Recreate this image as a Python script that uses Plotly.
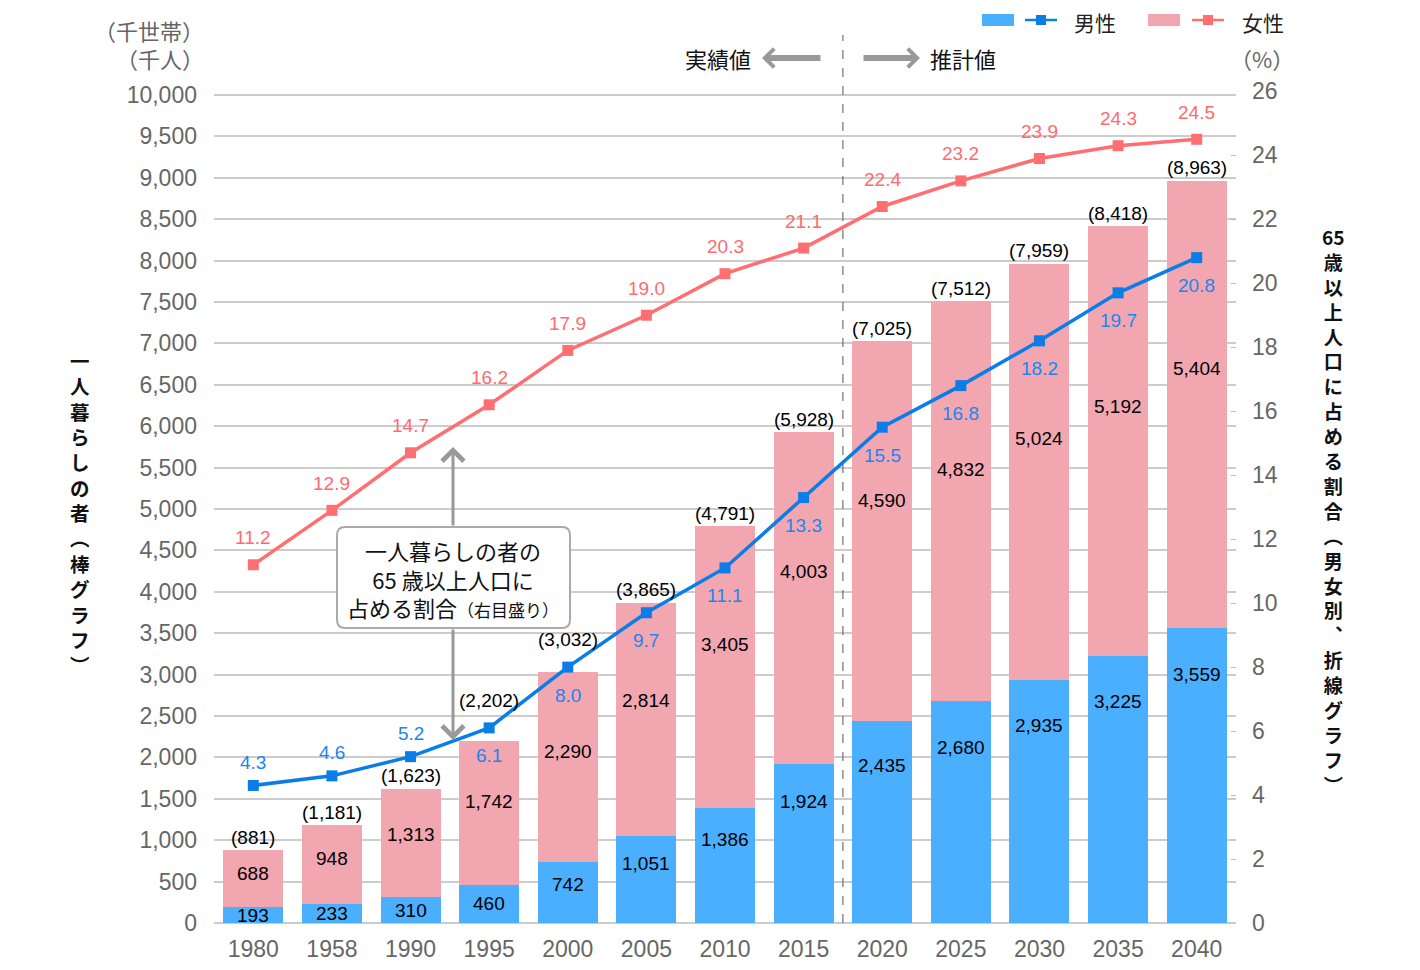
import plotly.graph_objects as go

# ---------------- data ----------------
years = ["1980", "1958", "1990", "1995", "2000", "2005", "2010", "2015",
         "2020", "2025", "2030", "2035", "2040"]
male = [193, 233, 310, 460, 742, 1051, 1386, 1924, 2435, 2680, 2935, 3225, 3559]
female = [688, 948, 1313, 1742, 2290, 2814, 3405, 4003, 4590, 4832, 5024, 5192, 5404]
totals = [881, 1181, 1623, 2202, 3032, 3865, 4791, 5928, 7025, 7512, 7959, 8418, 8963]
male_pct = [4.3, 4.6, 5.2, 6.1, 8.0, 9.7, 11.1, 13.3, 15.5, 16.8, 18.2, 19.7, 20.8]
female_pct = [11.2, 12.9, 14.7, 16.2, 17.9, 19.0, 20.3, 21.1, 22.4, 23.2, 23.9, 24.3, 24.5]
left_ticks = list(range(0, 10001, 500))
right_ticks = list(range(0, 27, 2))

# ---------------- style ----------------
PAGE_W, PAGE_H = 1420, 970
OFF = 8  # default page body margin
W, H = PAGE_W - OFF, PAGE_H - OFF
# plot-area edges in page pixels
L, R, T, B = 214, 1236, 91, 923
LEFT_MAX = 10000 * (B - T) / (B - 95)
RIGHT_MAX = 26.0
PX_PER_UNIT = (B - T) / LEFT_MAX
PX_PER_PCT = (B - T) / RIGHT_MAX

C_MBAR = "#4BAFFF"
C_FBAR = "#F2A6B0"
C_MLINE = "#0A7DE8"
C_FLINE = "#FF6F72"
C_MTXT = "#1A86F0"
C_FTXT = "#FF6B6E"
GRAY = "#666666"
NUM = "Liberation Sans, Arial, Noto Sans CJK JP, sans-serif"
JP = "Noto Sans CJK JP, sans-serif"
TICK = 23


def pxp(x):
    return (x - L) / (R - L)


def pyp(y):
    return (B - y) / (B - T)


fig = go.Figure()
fig.add_trace(go.Bar(x=years, y=male, marker=dict(color=C_MBAR, line=dict(width=0)),
                     name="男性", showlegend=False, yaxis="y"))
fig.add_trace(go.Bar(x=years, y=female, marker=dict(color=C_FBAR, line=dict(width=0)),
                     name="女性", showlegend=False, yaxis="y"))
fig.add_trace(go.Scatter(x=years, y=male_pct, yaxis="y2", mode="lines+markers",
                         line=dict(color=C_MLINE, width=3.5),
                         marker=dict(symbol="square", size=11, color=C_MLINE),
                         showlegend=False))
fig.add_trace(go.Scatter(x=years, y=female_pct, yaxis="y2", mode="lines+markers",
                         line=dict(color=C_FLINE, width=3.5),
                         marker=dict(symbol="square", size=11, color=C_FLINE),
                         showlegend=False))

ann = []
shapes = []
ratio = LEFT_MAX / RIGHT_MAX

for i in range(len(years)):
    # male value label
    h = male[i] * PX_PER_UNIT
    off = min(h / 2, 14 + 0.15 * h, 46)
    ann.append(dict(x=i, y=male[i], xref="x", yref="y", text=f"{male[i]:,}",
                    showarrow=False, yshift=-off, font=dict(size=19, color="#000", family=NUM)))
    # female value label
    hf = female[i] * PX_PER_UNIT
    ann.append(dict(x=i, y=male[i] + female[i] / 2, xref="x", yref="y", text=f"{female[i]:,}",
                    showarrow=False, yshift=0.08 * hf, font=dict(size=19, color="#000", family=NUM)))
    # total label: lifted above the male line when the line would cross it
    top_px = (male[i] + female[i]) * PX_PER_UNIT
    label_px = top_px + 13
    marker_px = male_pct[i] * PX_PER_PCT
    d = label_px - marker_px
    shift = 13
    if -5 < d < 20:
        shift = marker_px + 27 - top_px
    ann.append(dict(x=i, y=male[i] + female[i], xref="x", yref="y", text=f"({totals[i]:,})",
                    showarrow=False, yshift=shift, font=dict(size=19, color="#000", family=NUM)))
    # female pct label
    ann.append(dict(x=i, y=female_pct[i], xref="x", yref="y2", text=f"{female_pct[i]:.1f}",
                    showarrow=False, yshift=27, font=dict(size=19, color=C_FTXT, family=NUM)))
    # male pct label
    above = male_pct[i] * ratio - totals[i] > 250
    ann.append(dict(x=i, y=male_pct[i], xref="x", yref="y2", text=f"{male_pct[i]:.1f}",
                    showarrow=False, yshift=23 if above else -28,
                    font=dict(size=19, color=C_MTXT, family=NUM)))

# unit labels
ann.append(dict(x=pxp(206), y=pyp(30), xref="paper", yref="paper", text="（千世帯）",
                xanchor="right", yanchor="middle", showarrow=False,
                font=dict(size=22, color=GRAY, family=JP)))
ann.append(dict(x=pxp(206), y=pyp(58), xref="paper", yref="paper", text="（千人）",
                xanchor="right", yanchor="middle", showarrow=False,
                font=dict(size=22, color=GRAY, family=JP)))
ann.append(dict(x=pxp(1296), y=pyp(58), xref="paper", yref="paper", text="（%）",
                xanchor="right", yanchor="middle", showarrow=False,
                font=dict(size=22, color=GRAY, family=JP)))

# 実績値 / 推計値
ann.append(dict(x=pxp(753), y=pyp(58), xref="paper", yref="paper", text="実績値",
                xanchor="right", yanchor="middle", showarrow=False,
                font=dict(size=22, color="#111", family=JP)))
ann.append(dict(x=pxp(928), y=pyp(58), xref="paper", yref="paper", text="推計値",
                xanchor="left", yanchor="middle", showarrow=False,
                font=dict(size=22, color="#111", family=JP)))
ann.append(dict(x=pxp(762), y=pyp(58), xref="paper", yref="paper", text="",
                showarrow=True, ax=60, ay=0, arrowhead=4, arrowsize=0.6,
                arrowwidth=6, arrowcolor="#999999"))
ann.append(dict(x=pxp(920), y=pyp(58), xref="paper", yref="paper", text="",
                showarrow=True, ax=-58, ay=0, arrowhead=4, arrowsize=0.6,
                arrowwidth=6, arrowcolor="#999999"))

# callout box arrows
ann.append(dict(x=pxp(453), y=pyp(447), xref="paper", yref="paper", text="",
                showarrow=True, ax=0, ay=80, arrowhead=4, arrowsize=1.4,
                arrowwidth=3, arrowcolor="#999999"))
ann.append(dict(x=pxp(453), y=pyp(740), xref="paper", yref="paper", text="",
                showarrow=True, ax=0, ay=-112, arrowhead=4, arrowsize=1.4,
                arrowwidth=3, arrowcolor="#999999"))

# rounded box
bx0, bx1, by0, by1, rr = 337, 570, 527, 628, 8
rx, ry = rr / (R - L), rr / (B - T)
X0, X1, Y0, Y1 = pxp(bx0), pxp(bx1), pyp(by1), pyp(by0)
path = (f"M {X0+rx},{Y0} L {X1-rx},{Y0} Q {X1},{Y0} {X1},{Y0+ry} "
        f"L {X1},{Y1-ry} Q {X1},{Y1} {X1-rx},{Y1} L {X0+rx},{Y1} "
        f"Q {X0},{Y1} {X0},{Y1-ry} L {X0},{Y0+ry} Q {X0},{Y0} {X0+rx},{Y0} Z")
shapes.append(dict(type="path", xref="paper", yref="paper", path=path,
                   fillcolor="white", line=dict(color="#AAAAAA", width=2), layer="above"))
ann.append(dict(x=pxp(453), y=pyp(578), xref="paper", yref="paper",
                text="一人暮らしの者の<br>65 歳以上人口に<br>占める割合<span style='font-size:17px'>（右目盛り）</span>",
                showarrow=False, xanchor="center", yanchor="middle", align="center",
                font=dict(size=22, color="#111", family=JP)))

# dashed divider between 2015 and 2020
shapes.append(dict(type="line", xref="x", yref="paper", x0=7.5, x1=7.5,
                   y0=0, y1=pyp(35), line=dict(color="#555555", width=1, dash="dash")))

# legend (drawn)
for (rx0, lx0, tx, col_bar, col_line, label) in [
        (982, 1025, 1072, C_MBAR, C_MLINE, "男性"),
        (1148, 1192, 1240, C_FBAR, C_FLINE, "女性")]:
    shapes.append(dict(type="rect", xref="paper", yref="paper",
                       x0=pxp(rx0), x1=pxp(rx0 + 32), y0=pyp(26), y1=pyp(14),
                       fillcolor=col_bar, line=dict(width=0)))
    shapes.append(dict(type="line", xref="paper", yref="paper",
                       x0=pxp(lx0), x1=pxp(lx0 + 32), y0=pyp(20), y1=pyp(20),
                       line=dict(color=col_line, width=2.5)))
    shapes.append(dict(type="rect", xref="paper", yref="paper",
                       x0=pxp(lx0 + 11), x1=pxp(lx0 + 21), y0=pyp(25), y1=pyp(15),
                       fillcolor=col_line, line=dict(width=0)))
    ann.append(dict(x=pxp(tx), y=pyp(21.5), xref="paper", yref="paper", text=label,
                    xanchor="left", yanchor="middle", showarrow=False,
                    font=dict(size=21, color="#222", family=JP)))

# vertical axis titles (upright characters, one per line)
left_title = ["一", "人", "暮", "ら", "し", "の", "者", "︵", "棒", "グ", "ラ", "フ", "︶"]
ann.append(dict(x=pxp(80), y=pyp(512), xref="paper", yref="paper",
                text="<b>" + "<br>".join(left_title) + "</b>",
                showarrow=False, xanchor="center", yanchor="middle", align="center",
                font=dict(size=19.5, color="#111", family=JP)))

right_title = ["65", "歳", "以", "上", "人", "口", "に", "占", "め", "る", "割", "合",
               "︵", "男", "女", "別", "︑", "折", "線", "グ", "ラ", "フ", "︶"]
ann.append(dict(x=pxp(1333), y=pyp(511), xref="paper", yref="paper",
                text="<b>" + "<br>".join(right_title) + "</b>",
                showarrow=False, xanchor="center", yanchor="middle", align="center",
                font=dict(size=19.15, color="#111", family=JP)))

fig.update_layout(
    width=W, height=H,
    margin=dict(l=L - OFF, r=W - (R - OFF), t=T - OFF, b=H - (B - OFF), pad=0,
                autoexpand=False),
    paper_bgcolor="white", plot_bgcolor="white",
    barmode="stack", bargap=0.237,
    showlegend=False,
    xaxis=dict(type="category", range=[-0.5, 12.5], showgrid=False, showline=False,
               ticks="", tickfont=dict(size=TICK, color=GRAY, family=NUM),
               ticklabelstandoff=10, zeroline=False, automargin=False),
    yaxis=dict(range=[0, LEFT_MAX], tickvals=left_ticks,
               ticktext=[f"{v:,}" for v in left_ticks],
               showgrid=True, gridcolor="#CCCCCC", gridwidth=1.5,
               zeroline=True, zerolinecolor="#CCCCCC", zerolinewidth=1.5,
               showline=False, ticks="", automargin=False,
               tickfont=dict(size=TICK, color=GRAY, family=NUM), ticklabelstandoff=16),
    yaxis2=dict(range=[0, RIGHT_MAX + 0.01], overlaying="y", side="right",
                tickvals=right_ticks, showgrid=False, zeroline=False, showline=False,
                ticks="inside", ticklen=5, tickcolor="#BBBBBB", automargin=False,
                tickfont=dict(size=TICK, color=GRAY, family=NUM), ticklabelstandoff=15),
    annotations=ann,
    shapes=shapes,
)

fig.write_html("out.html")
